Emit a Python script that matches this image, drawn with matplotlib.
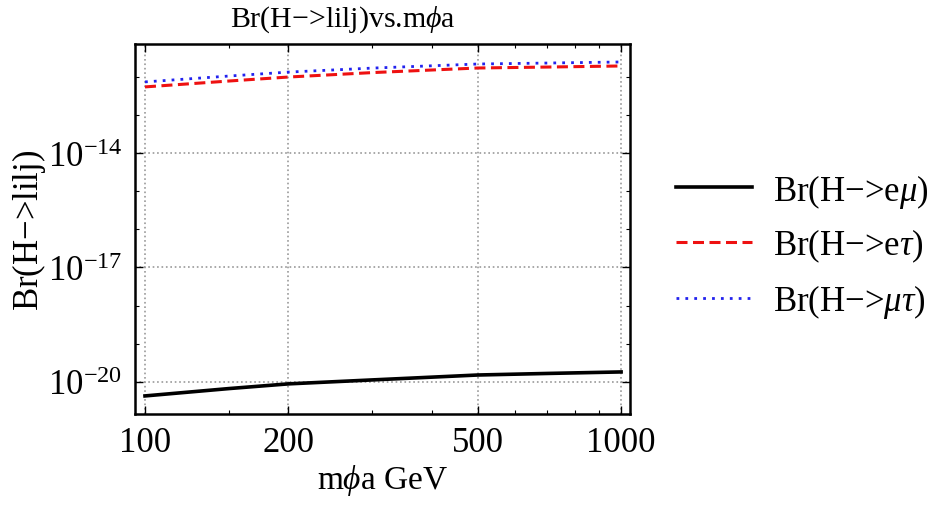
import numpy as np
import matplotlib.pyplot as plt
from matplotlib.ticker import FixedLocator, NullFormatter

plt.rcParams['font.family'] = ['Liberation Serif', 'DejaVu Serif']
plt.rcParams['mathtext.fontset'] = 'custom'
plt.rcParams['mathtext.rm'] = 'Liberation Serif'
plt.rcParams['mathtext.it'] = 'Liberation Serif:italic'

# data
m_phi = [100, 150, 200, 300, 500, 700, 1000]
br_emu = [4.3e-21, 6.7e-21, 8.9e-21, 1.13e-20, 1.52e-20, 1.67e-20, 1.83e-20]
br_etau = [5.4e-13, 7.7e-13, 9.8e-13, 1.28e-12, 1.69e-12, 1.79e-12, 1.91e-12]
br_mutau = [7.3e-13, 1.04e-12, 1.32e-12, 1.68e-12, 2.15e-12, 2.28e-12, 2.43e-12]

x_ticks = [100, 200, 500, 1000]
y_ticks = [1e-20, 1e-17, 1e-14]

fig = plt.figure(figsize=(9.41, 5.06), dpi=100)
ax = fig.add_axes([0.1435, 0.180, 0.526, 0.731])

ax.plot(m_phi, br_emu, color='black', lw=2.6, label=r'Br(H$-$>e$\mu$)')
ax.plot(m_phi, br_etau, color='#ee1111', lw=2.2, ls=(0, (3.6, 1.8)), label=r'Br(H$-$>e$\tau$)')
ax.plot(m_phi, br_mutau, color='#2222ee', lw=2.0, ls=(0, (1, 2.2)), label=r'Br(H$-$>$\mu\tau$)')

ax.set_xscale('log')
ax.set_yscale('log')
ax.set_xlim(95.3, 1044)
ax.set_ylim(10**-20.838, 10**-11.144)

ax.xaxis.set_major_locator(FixedLocator(x_ticks))
ax.xaxis.set_minor_locator(FixedLocator([150, 300, 400, 600, 700, 800, 900]))
ax.xaxis.set_minor_formatter(NullFormatter())
ax.set_xticklabels([str(v) for v in x_ticks])
ax.yaxis.set_major_locator(FixedLocator(y_ticks))
ax.yaxis.set_minor_locator(FixedLocator([10.0**k for k in range(-20, -10)]))
ax.yaxis.set_minor_formatter(NullFormatter())
ax.set_yticklabels([r'$10^{-20}$', r'$10^{-17}$', r'$10^{-14}$'])

ax.tick_params(which='both', direction='in', top=True, right=True, labelsize=25, pad=9)
ax.tick_params(which='major', length=6, width=1)
ax.tick_params(which='minor', length=3, width=0.8)
for s in ax.spines.values():
    s.set_linewidth(1.8)

ax.grid(True, which='major', ls=':', color='#999999', lw=1.2)

# title sits over the whole plot area, tick labels included
fig.text(343 / 941, 1 - 20 / 506, r'Br(H$-$>lilj)vs.m$\phi$a', fontsize=21.5,
         ha='center', va='center')
ax.set_xlabel(r'm$\phi$a GeV', fontsize=24, labelpad=2)
ax.set_ylabel(r'Br(H$-$>lilj)', fontsize=25, labelpad=0)

ax.legend(loc='center left', bbox_to_anchor=(1.03, 0.455), frameon=False,
          fontsize=25, handlelength=2.2, labelspacing=0.5, handletextpad=0.6)

fig.savefig('out.png', dpi=100)
